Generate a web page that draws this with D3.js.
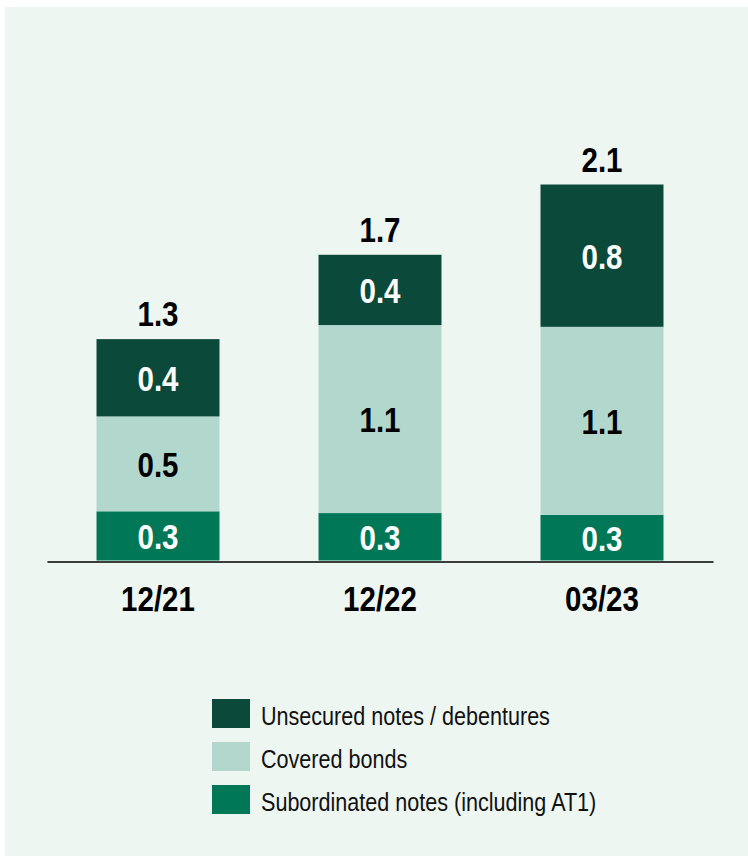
<!DOCTYPE html>
<html>
<head>
<meta charset="utf-8">
<script src="https://cdn.jsdelivr.net/npm/d3@7"></script>
<style>
  html, body { margin: 0; padding: 0; background: #ffffff; }
  svg { display: block; }
  text { font-family: "Liberation Sans", Arial, sans-serif; }
</style>
</head>
<body>
<svg id="chart" width="748" height="856"></svg>
<script>
// Funding volumes by instrument type, EUR bn
const periods = ["12/21", "12/22", "03/23"];
const subordinated = [0.28, 0.27, 0.26];
const covered = [0.54, 1.07, 1.07];
const unsecured = [0.44, 0.40, 0.81];
const seriesNames = ["Unsecured notes / debentures", "Covered bonds", "Subordinated notes (including AT1)"];

const colors = {
  sub: "#007858",
  cov: "#b2d8cd",
  uns: "#0b4a3a"
};

// condensed look: horizontal squeeze of the text glyphs
const narrow = 0.82;

const svg = d3.select("#chart");

// panel background
svg.append("rect")
  .attr("x", 5).attr("y", 7)
  .attr("width", 743).attr("height", 849)
  .attr("fill", "#eef6f2");

const rows = periods.map((p, i) => ({
  period: p,
  sub: subordinated[i],
  cov: covered[i],
  uns: unsecured[i]
}));

const keys = ["sub", "cov", "uns"];
const stacked = d3.stack().keys(keys)(rows);

const x = d3.scaleBand()
  .domain(periods)
  .range([47, 713])
  .paddingInner(0.446)
  .paddingOuter(0.223);

const totals = rows.map(r => r.sub + r.cov + r.uns);
const yMax = d3.max(totals);
const baseY = 560.5;
const pxPerUnit = 175.7;
const y = d3.scaleLinear()
  .domain([0, yMax])
  .range([baseY, baseY - yMax * pxPerUnit]);

const fmt = d3.format(".1f");

// stacked bars
const layers = svg.append("g").selectAll("g")
  .data(stacked)
  .join("g")
  .attr("fill", d => colors[d.key]);

layers.selectAll("rect")
  .data(d => d.map(s => ({ s, key: d.key })))
  .join("rect")
  .attr("x", d => x(d.s.data.period))
  .attr("width", x.bandwidth())
  .attr("y", d => y(d.s[1]))
  .attr("height", d => y(d.s[0]) - y(d.s[1]));

// segment value labels
const labelSize = 36;
svg.append("g").selectAll("g")
  .data(stacked)
  .join("g")
  .selectAll("text")
  .data(d => d.map(s => ({ s, key: d.key })))
  .join("text")
  .attr("transform", d => {
    const cx = x(d.s.data.period) + x.bandwidth() / 2;
    const cy = (y(d.s[0]) + y(d.s[1])) / 2 + labelSize * 0.358;
    return `translate(${cx},${cy}) scale(${narrow},1)`;
  })
  .attr("text-anchor", "middle")
  .attr("font-size", labelSize)
  .attr("font-weight", "bold")
  .attr("fill", d => d.key === "cov" ? "#000000" : "#ffffff")
  .text(d => fmt(d.s[1] - d.s[0]));

// totals above bars
svg.append("g").selectAll("text")
  .data(rows)
  .join("text")
  .attr("transform", (d, i) =>
    `translate(${x(d.period) + x.bandwidth() / 2},${y(totals[i]) - 13}) scale(${narrow},1)`)
  .attr("text-anchor", "middle")
  .attr("font-size", labelSize)
  .attr("font-weight", "bold")
  .attr("fill", "#000000")
  .text((d, i) => fmt(totals[i]));

// baseline axis with category labels
const axis = svg.append("g")
  .attr("transform", `translate(0,${baseY + 1})`)
  .call(d3.axisBottom(x).tickSize(0).tickPadding(24));
axis.attr("font-family", null);
axis.select(".domain")
  .attr("stroke", "#000000")
  .attr("stroke-width", 1.6);
axis.selectAll(".tick text")
  .attr("font-size", labelSize)
  .attr("font-weight", "bold")
  .attr("fill", "#000000")
  .attr("dy", "0.71em")
  .attr("transform", `scale(${narrow},1)`);

// legend
const legendKeys = ["uns", "cov", "sub"];
const legend = svg.append("g").attr("transform", "translate(212,699)");
const items = legend.selectAll("g")
  .data(legendKeys)
  .join("g")
  .attr("transform", (d, i) => `translate(0,${i * 43})`);
items.append("rect")
  .attr("width", 38).attr("height", 29)
  .attr("fill", d => colors[d]);
items.append("text")
  .attr("transform", `translate(49,26) scale(0.83,1)`)
  .attr("font-size", 26)
  .attr("fill", "#111111")
  .text((d, i) => seriesNames[i]);
</script>
</body>
</html>
